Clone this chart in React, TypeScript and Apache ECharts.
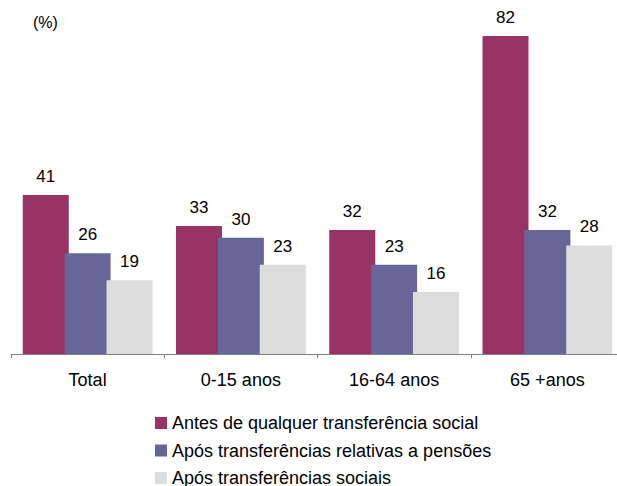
import React, { useEffect, useRef } from "react";
import * as echarts from "echarts";

const categories = ["Total", "0-15 anos", "16-64 anos", "65 +anos"];
const seriesNames = [
  "Antes de qualquer transferência social",
  "Após transferências relativas a pensões",
  "Após transferências sociais",
];
const antes = [41, 33, 32, 82];
const pensoes = [26, 30, 23, 32];
const sociais = [19, 23, 16, 28];
const colors = ["#993366", "#666699", "#DDDDDD"];

export default function App() {
  const ref = useRef<HTMLDivElement>(null);
  useEffect(() => {
    if (!ref.current) return;
    const chart = echarts.init(ref.current, null, { renderer: "svg" });
    const font = "'Liberation Sans', Arial, sans-serif";
    const values = [antes, pensoes, sociais];
    chart.setOption({
      animation: false,
      textStyle: { fontFamily: font },
      grid: {
        left: 11,
        width: 613,
        top: 5,
        height: 349,
        containLabel: false,
        outerBoundsMode: "none",
      },
      graphic: [
        {
          type: "text",
          left: 33,
          top: 14,
          style: { text: "(%)", font: `16px ${font}`, fill: "#000" },
        },
      ],
      legend: {
        orient: "vertical",
        left: 155,
        top: 414,
        padding: 0,
        height: 200,
        itemWidth: 12,
        itemHeight: 12,
        itemGap: 9.5,
        itemTextGap: 5,
        icon: "rect",
        textStyle: { fontSize: 18, color: "#000", fontFamily: font },
        data: seriesNames,
      },
      xAxis: {
        type: "category",
        data: categories,
        axisLine: { lineStyle: { color: "#808080", width: 1 } },
        axisTick: { show: true, length: 4, lineStyle: { color: "#808080" } },
        axisLabel: { fontSize: 18, color: "#000", margin: 17, fontFamily: font },
      },
      yAxis: {
        type: "value",
        min: 0,
        max: 90,
        show: false,
        splitLine: { show: false },
      },
      series: values.map((v, i) => ({
        name: seriesNames[i],
        type: "bar",
        data: v,
        barWidth: 46,
        barGap: "-9%",
        itemStyle: { color: colors[i] },
        label: {
          show: true,
          position: "top",
          distance: 10,
          fontSize: 17,
          color: "#000",
          fontFamily: font,
        },
      })),
    });
    return () => chart.dispose();
  }, []);
  return (
    <div
      ref={ref}
      style={{ position: "absolute", left: 0, top: 0, width: 617, height: 486 }}
    />
  );
}
